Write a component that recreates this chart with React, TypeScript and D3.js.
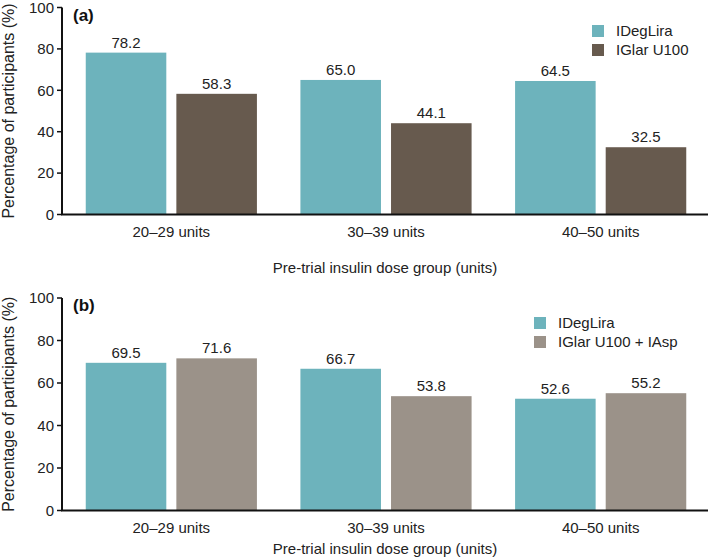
import React from "react";
import * as d3 from "d3";

const categories = ["20–29 units", "30–39 units", "40–50 units"];
const seriesA = ["IDegLira", "IGlar U100"];
const seriesB = ["IDegLira", "IGlar U100 + IAsp"];
const valuesA = [
  [78.2, 58.3],
  [65.0, 44.1],
  [64.5, 32.5],
];
const valuesB = [
  [69.5, 71.6],
  [66.7, 53.8],
  [52.6, 55.2],
];
const yTicks = [0, 20, 40, 60, 80, 100];
const colorsA = ["#6db3bc", "#675a4e"];
const colorsB = ["#6db3bc", "#9b9289"];

const W = 709;
const H = 559;
const FONT = "'Liberation Sans', Arial, sans-serif";

function Panel({ label, series, values, colors, top, bottom, titleGap, legendX, legendY }) {
  const x0 = d3.scaleBand().domain(categories).range([64, 708]);
  const x1 = d3
    .scaleBand()
    .domain(series)
    .range([0, x0.bandwidth()])
    .paddingInner(0.111)
    .paddingOuter(0.24);
  const y = d3.scaleLinear().domain([0, 100]).range([bottom, top]);
  const axisX = 62;

  return (
    <g>
      {/* bars */}
      {categories.map((c, i) =>
        series.map((s, j) => (
          <g key={c + s}>
            <rect
              x={x0(c) + x1(s)}
              y={y(values[i][j])}
              width={x1.bandwidth()}
              height={bottom - y(values[i][j])}
              fill={colors[j]}
            />
            <text
              x={x0(c) + x1(s) + x1.bandwidth() / 2}
              y={y(values[i][j]) - 5}
              textAnchor="middle"
              fontSize={15}
              fill="#222"
            >
              {values[i][j].toFixed(1)}
            </text>
          </g>
        ))
      )}

      {/* y axis */}
      <line x1={axisX} x2={axisX} y1={top} y2={bottom} stroke="#111" strokeWidth={2} />
      {yTicks.map((t) => (
        <g key={t}>
          <line x1={axisX - 5} x2={axisX} y1={y(t)} y2={y(t)} stroke="#111" strokeWidth={1.5} />
          <text x={axisX - 8} y={y(t)} dy="0.35em" textAnchor="end" fontSize={15} fill="#222">
            {t}
          </text>
        </g>
      ))}

      {/* x axis */}
      <line x1={axisX - 1} x2={708} y1={bottom} y2={bottom} stroke="#111" strokeWidth={2} />
      {categories.map((c) => (
        <text
          key={c}
          x={x0(c) + x0.bandwidth() / 2}
          y={bottom + 22}
          textAnchor="middle"
          fontSize={15}
          fill="#222"
        >
          {c}
        </text>
      ))}
      <text x={385} y={bottom + titleGap} textAnchor="middle" fontSize={15} fill="#222">
        Pre-trial insulin dose group (units)
      </text>
      <text
        transform={`translate(14,${(top + bottom) / 2}) rotate(-90)`}
        textAnchor="middle"
        fontSize={16}
        fill="#222"
      >
        Percentage of participants (%)
      </text>

      <text x={73} y={top + 13} fontSize={17} fontWeight="bold" fill="#111">
        {label}
      </text>

      {/* legend */}
      {series.map((s, j) => (
        <g key={s} transform={`translate(${legendX},${legendY + j * 19})`}>
          <rect x={0} y={-6} width={12} height={12} fill={colors[j]} />
          <text x={24} y={0} dy="0.35em" fontSize={15} fill="#222">
            {s}
          </text>
        </g>
      ))}
    </g>
  );
}

export default function App() {
  return (
    <svg
      width={W}
      height={H}
      style={{ position: "absolute", left: 0, top: 0, fontFamily: FONT, background: "#fff" }}
    >
      <rect width={W} height={H} fill="#fff" />
      <Panel
        label="(a)"
        series={seriesA}
        values={valuesA}
        colors={colorsA}
        top={7.5}
        bottom={214.5}
        titleGap={58}
        legendX={592}
        legendY={31}
      />
      <Panel
        label="(b)"
        series={seriesB}
        values={valuesB}
        colors={colorsB}
        top={298}
        bottom={510.5}
        titleGap={43}
        legendX={534}
        legendY={323}
      />
    </svg>
  );
}
